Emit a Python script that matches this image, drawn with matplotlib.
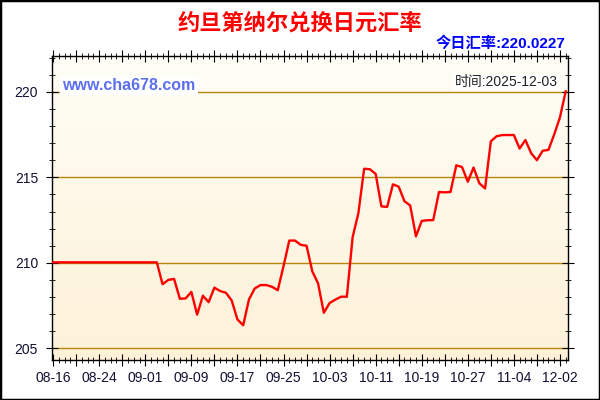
import matplotlib
matplotlib.use("Agg")
import matplotlib.pyplot as plt
import numpy as np
import pandas as pd
from matplotlib.colors import LinearSegmentedColormap
from matplotlib.patches import Rectangle

plt.rcParams['font.family'] = ['Liberation Sans', 'Noto Sans CJK SC', 'DejaVu Sans']

# 日期(8月16日到11月4日逐日,之后是11月25日到12月3日)
datas = list(pd.date_range('2025-08-16', '2025-11-04').strftime('%m-%d')) + \
    list(pd.date_range('2025-11-25', '2025-12-03').strftime('%m-%d'))

# 汇率值
taxas = [210.03] * 19 + [
    208.75, 209.0, 209.06, 207.9, 207.92, 208.3, 206.97, 208.08, 207.7, 208.55,
    208.35, 208.25, 207.8, 206.69, 206.35, 207.86, 208.5, 208.7, 208.7, 208.6,
    208.4, 209.8, 211.3, 211.3, 211.05, 211.0, 209.5, 208.8, 207.08, 207.65,
    207.85, 208.02, 208.02, 211.5, 212.9, 215.5, 215.47, 215.2, 213.3, 213.27,
    214.59, 214.45, 213.6, 213.35, 211.55, 212.45, 212.49, 212.5, 214.14, 214.12,
    214.14, 215.7, 215.6, 214.74, 215.57, 214.65, 214.35, 217.1, 217.4, 217.47,
    217.47, 217.47, 216.68, 217.18, 216.41, 216.0, 216.55, 216.6, 217.5, 218.5,
    220.0227,
]

titulo = "约旦第纳尔兑换日元汇率"
hoje = "今日汇率:220.0227"
hora = "时间:2025-12-03"
site = "www.cha678.com"

x = np.arange(len(taxas))

fig = plt.figure(figsize=(6, 4), dpi=100)
ax = fig.add_axes([52 / 600, 40 / 400, 516 / 600, 304 / 400])

xmin, xmax = -0.2, 89.4
ymin, ymax = 204.32, 222.09

# Fundo em degradê
grad = np.linspace(0, 1, 256).reshape(-1, 1)
cmap = LinearSegmentedColormap.from_list('fundo', ['#fffef6', '#fdf1d8'])
ax.imshow(grad, extent=[xmin, xmax, ymin, ymax], aspect='auto', cmap=cmap,
          origin='upper', zorder=0)

for yv in [205, 210, 215, 220]:
    ax.axhline(yv, color='#b8860b', lw=1.0, zorder=1)

ax.plot(x, taxas, color='red', lw=1.7, zorder=3)

ax.set_xlim(xmin, xmax)
ax.set_ylim(ymin, ymax)

ax.set_yticks([205, 210, 215, 220])
ax.set_yticks(np.arange(205, 223), minor=True)
ax.set_xticks(x[::4])
ax.set_xticklabels([d if i % 8 == 0 else '' for i, d in zip(x[::4], datas[::4])])
ax.set_xticks(x, minor=True)

ax.tick_params(which='both', direction='inout', top=True, right=True,
               labelsize=10, labelcolor='#111133', color='black')
ax.tick_params(which='major', length=8)
ax.tick_params(which='minor', length=4.5)
ax.tick_params(axis='y', pad=6)
ax.tick_params(axis='x', pad=4)
for s in ax.spines.values():
    s.set_color('black')
    s.set_linewidth(1.0)

ax.text(0.02, 0.903, site, transform=ax.transAxes, fontsize=11.5, fontweight='bold',
        color='#5b6ff0', ha='left', va='center', zorder=5,
        bbox=dict(facecolor='white', edgecolor='none', pad=1.5))
ax.text(0.98, 0.914, hora, transform=ax.transAxes, fontsize=10, color='#222222',
        ha='right', va='center', zorder=5,
        bbox=dict(facecolor='white', edgecolor='none', pad=1.0))

fig.text(0.5, 1 - 24 / 400, titulo, fontsize=16, fontweight='bold', color='red',
         ha='center', va='center')
fig.text(565 / 600, 1 - 43 / 400, hoje, fontsize=11, fontweight='bold', color='blue',
         ha='right', va='center')

fig.patches.append(Rectangle((0, 0), 1, 1, transform=fig.transFigure, fill=False,
                             edgecolor='black', lw=2.5))

fig.savefig('out.png', dpi=100)
